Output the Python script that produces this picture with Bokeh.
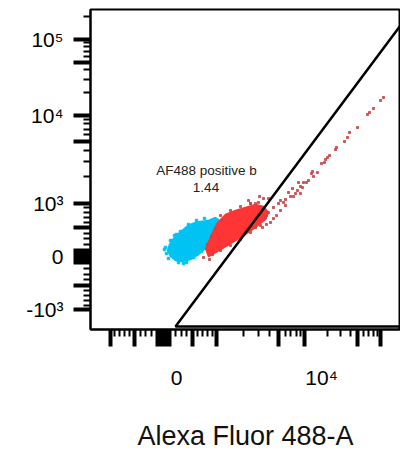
import numpy as np
from bokeh.plotting import figure
from bokeh.models import FixedTicker, Range1d, Label, LinearAxis
from bokeh.embed import file_html
from bokeh.resources import INLINE

# ---------------- biexponential display scale (FlowJo-like) ----------------
def biex(v):
    v = np.asarray(v, dtype=float)
    lin = 60.2 * np.arcsinh(v / 1000.0)
    lo = 53.06 + 88.0 * np.log10(np.clip(v, 1e-9, None) / 1000.0)
    hi = 141.06 + 76.0 * np.log10(np.clip(v, 1e-9, None) / 10000.0)
    out = np.where(np.abs(v) <= 1000, lin, np.where(v <= 10000, lo, hi))
    return np.round(out, 3)

# ---------------- axis tick values (fluorescence units) ----------------
decade_ticks = [-1000, 0, 1000, 10000, 100000]
mid_ticks = [-500, 500, 5000, 50000]
zero_block_ticks = list(range(-100, 101, 10))
minor_tick_vals = [-900, -800, -700, -600, -400, -300, -200,
                   200, 300, 400, 600, 700, 800, 900,
                   2000, 3000, 4000, 6000, 7000, 8000, 9000,
                   20000, 30000, 40000, 60000, 70000, 80000, 90000, 200000]
x_tick_labels = {0: "0", 10000: "10\u2074"}
y_tick_labels = {-1000: "-10\u00b3", 0: "0", 1000: "10\u00b3",
                 10000: "10\u2074", 100000: "10\u2075"}
# FlowJo draws the x labels to the right of their ticks (offset in px)
x_label_offset = {0: 13, 10000: 17}

# ---------------- data, in display (channel) units ----------------
# dense blue population (outline)
blue_x = [4, 6, 10, 15, 22, 29, 37, 45, 52, 55, 50, 42, 35, 27, 19, 12, 7]
blue_y = [6, 12, 18, 23, 29, 33, 35, 36, 39, 37, 26, 8, 2, -3, -5, -4, 0]
# scattered blue events at the edge of the population
blue_pts_x = [2, 3, 7, 11, 5, 15, 23, 17, 25, 33, 41, 9, 30, 38, 47, 1, 13, 20]
blue_pts_y = [9, 3, 16, 21, -2, -6, -6, 25, 32, 36, 38, 4, -1, 5, 33, 7, 22, -7]
# dense red population (outline)
red_x = [42, 50, 54, 62, 72, 82, 92, 100, 105, 102, 92, 82, 72, 62, 52, 45]
red_y = [8, 26, 34, 42, 46, 49, 52, 50, 44, 37, 29, 22, 16, 10, 4, 0]
# individual red events
red_pts_x = [220, 217, 210, 206, 204, 194, 186, 184, 181, 173, 172, 166, 164, 162,
             161, 158, 154, 149, 148, 150, 145, 143, 140, 135, 137, 139, 134, 137,
             132, 127, 130, 125, 122, 120, 115, 117, 110, 105, 102, 99, 92, 87, 85,
             122, 110, 92, 99, 96, 100, 105, 113, 107, 103, 117, 129,
             57, 67, 77, 87, 95, 49, 57, 67, 77, 87, 97, 103, 40, 46, 44, 48, 52, 58]
red_pts_y = [159, 156, 148, 144, 142, 129, 124, 119, 115, 109, 107, 101, 99, 97,
             94, 93, 84, 85, 83, 80, 76, 74, 74, 74, 70, 69, 66, 63,
             63, 60, 60, 64, 57, 54, 53, 46, 49, 44, 39, 49, 53, 53, 56,
             51, 38, 29, 29, 60, 58, 58, 41, 34, 32, 56, 68,
             41, 46, 50, 53, 54, 2, 6, 11, 17, 24, 31, 41, -1, -3, 12, 20, 28, 36]
# gate polygon
gate_x = [12, 262, 262]
gate_y = [-70, 264.5, -70]
gate_name = "AF488 positive b"
gate_pct = "1.44"

BLUE = "#00C3F4"
RED = "#FF3434"
FONT = "Liberation Sans"

p = figure(frame_width=310, frame_height=320, output_backend="svg", toolbar_location=None,
           x_range=Range1d(-73, 237), y_range=Range1d(-73, 247),
           min_border_left=90, min_border_right=0, min_border_top=9,
           min_border_bottom=0)
p.grid.visible = False
p.outline_line_color = "black"
p.outline_line_width = 2
p.background_fill_color = "white"
p.border_fill_color = "white"

p.patch(blue_x, blue_y, fill_color=BLUE, line_color=BLUE, line_width=1.5)
p.scatter(blue_pts_x, blue_pts_y, marker="square", size=2.5, color=BLUE)
p.patch(red_x, red_y, fill_color=RED, line_color=RED, line_width=1.5)
p.scatter(red_pts_x, red_pts_y, marker="square", size=2, color="#C84444", alpha=0.85)
p.patch(gate_x, gate_y, fill_color=None, line_color="black", line_width=2.5)

p.add_layout(Label(x=43, y=86, text=gate_name, text_align="center",
                   text_baseline="middle", text_font=FONT, text_font_size="13.5px",
                   text_color="#222222"))
p.add_layout(Label(x=42.5, y=69, text=gate_pct, text_align="center",
                   text_baseline="middle", text_font=FONT, text_font_size="13.5px",
                   text_color="#222222"))

major_vals = sorted(set(decade_ticks + mid_ticks + zero_block_ticks))
major_pos = [float(t) for t in biex(major_vals)]
minor_pos = [float(t) for t in biex(minor_tick_vals)]

def style_ticks(ax):
    ax.major_tick_out = 17
    ax.major_tick_in = 0
    ax.major_tick_line_width = 4
    ax.minor_tick_out = 7
    ax.minor_tick_in = 0
    ax.minor_tick_line_width = 2
    ax.axis_line_width = 2

# y axis: ticks + labels
ya = p.yaxis[0]
ya.ticker = FixedTicker(ticks=major_pos, minor_ticks=minor_pos)
ya.major_label_overrides = {pos: y_tick_labels.get(v, "") for v, pos in zip(major_vals, major_pos)}
style_ticks(ya)
ya.major_label_text_font = FONT
ya.major_label_text_font_size = "21px"
ya.major_label_text_color = "black"
ya.major_label_standoff = 10

# x axis: tick marks only
xa = p.xaxis[0]
xa.ticker = FixedTicker(ticks=major_pos, minor_ticks=minor_pos)
xa.major_label_overrides = {pos: "" for pos in major_pos}
xa.major_label_text_font_size = "0px"
xa.major_label_standoff = 0
style_ticks(xa)

# second x axis below: labels (placed right of their ticks) + title
lab_vals = sorted(x_tick_labels)
lab_pos = [float(biex(v)) + x_label_offset[v] for v in lab_vals]
xl = LinearAxis(ticker=FixedTicker(ticks=lab_pos, minor_ticks=[]))
xl.major_label_overrides = {pos: x_tick_labels[v] for v, pos in zip(lab_vals, lab_pos)}
xl.axis_line_color = None
xl.major_tick_line_color = None
xl.minor_tick_line_color = None
xl.major_tick_out = 0
xl.major_tick_in = 0
xl.minor_tick_out = 0
xl.minor_tick_in = 0
xl.major_label_standoff = 19
xl.major_label_text_font = FONT
xl.major_label_text_font_size = "21px"
xl.major_label_text_color = "black"
xl.axis_label = "Alexa Fluor 488-A"
xl.axis_label_text_font = FONT
xl.axis_label_text_font_size = "27px"
xl.axis_label_text_font_style = "normal"
xl.axis_label_text_color = "#111111"
xl.axis_label_standoff = 29
p.add_layout(xl, "below")

open("out.html", "w").write(file_html(p, INLINE))
